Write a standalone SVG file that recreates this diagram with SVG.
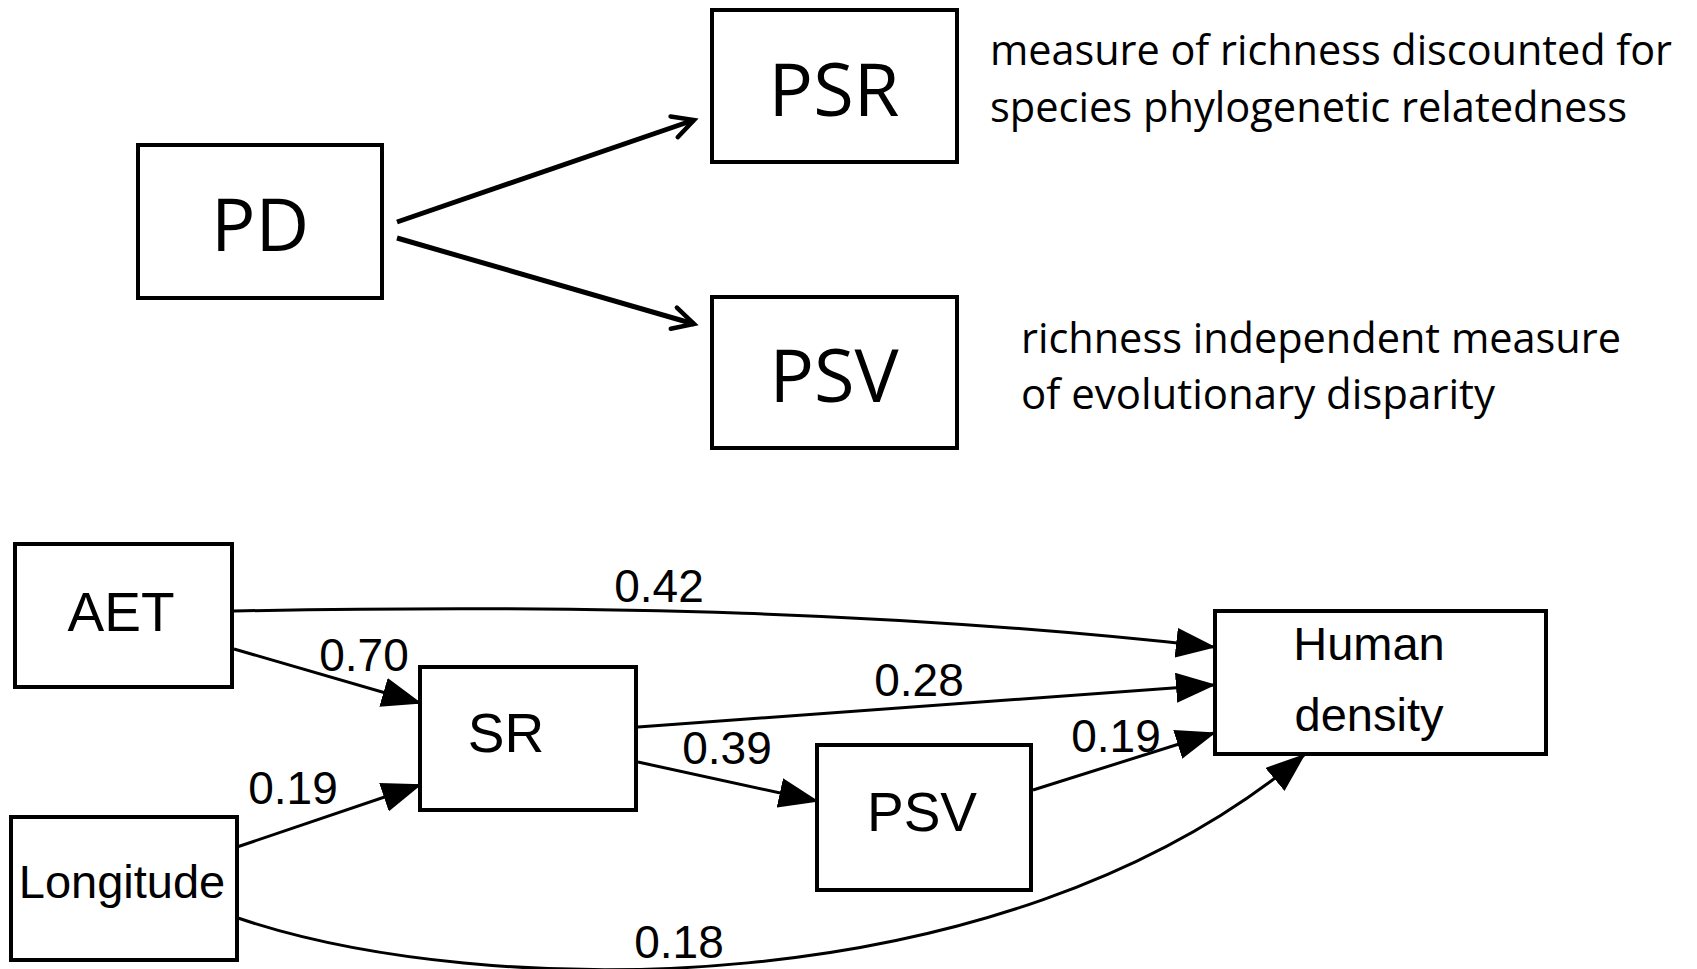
<svg xmlns="http://www.w3.org/2000/svg" width="1697" height="969" viewBox="0 0 1697 969">
<style>
.box{fill:#fff;stroke:#000;stroke-width:4}
.top{font-family:"Open Sans","Noto Sans",sans-serif;font-size:74px;fill:#000;text-anchor:middle}
.desc{font-family:"Open Sans","Noto Sans",sans-serif;font-size:42px;fill:#000}
.node{font-family:"Liberation Sans",Arial,sans-serif;font-size:55px;fill:#000;text-anchor:middle}
.small{font-family:"Liberation Sans",Arial,sans-serif;font-size:47px;fill:#000;text-anchor:middle}
.lbl{font-family:"Liberation Sans",Arial,sans-serif;font-size:46px;fill:#000;text-anchor:middle}
.c1{fill:none;stroke:#000;stroke-width:5;marker-end:url(#open)}
.c2{fill:none;stroke:#000;stroke-width:3;marker-end:url(#solid)}
</style>
<defs>
<marker id="open" viewBox="0 0 30 30" refX="24" refY="14" markerWidth="30" markerHeight="30" markerUnits="userSpaceOnUse" orient="auto">
<path d="M3,3 L24,14 L3,25" fill="none" stroke="#000" stroke-width="4.5" stroke-linecap="round"/>
</marker>
<marker id="solid" viewBox="0 0 40 30" refX="38" refY="15" markerWidth="40" markerHeight="30" markerUnits="userSpaceOnUse" orient="auto">
<path d="M0,0 L40,15 L0,30 z" fill="#000"/>
</marker>
</defs>
<rect width="1697" height="969" fill="#fff"/>

<g id="connectors">
<line class="c1" x1="397" y1="222" x2="694" y2="120"/>
<line class="c1" x1="397" y1="238" x2="694" y2="324"/>
<path class="c2" d="M234 611 C600 604, 900 612, 1214 647"/>
<line class="c2" x1="234" y1="649" x2="420" y2="703"/>
<line class="c2" x1="237" y1="847" x2="420" y2="785"/>
<line class="c2" x1="638" y1="727" x2="1214" y2="685"/>
<line class="c2" x1="638" y1="762" x2="817" y2="801"/>
<line class="c2" x1="1033" y1="790" x2="1214" y2="733"/>
<path class="c2" d="M238 918 C480 1000, 1000 1010, 1304 755"/>
</g>

<g id="node-PD"><rect class="box" x="138" y="145" width="244" height="153"/><text class="top" x="260" y="251">PD</text></g>
<g id="node-PSR"><rect class="box" x="712" y="10" width="245" height="152"/><text class="top" x="834" y="116">PSR</text></g>
<g id="node-PSV-top"><rect class="box" x="712" y="297" width="245" height="151"/><text class="top" x="834" y="402">PSV</text></g>
<g id="desc-PSR">
<text class="desc" x="990" y="65" textLength="682" lengthAdjust="spacingAndGlyphs">measure of richness discounted for</text>
<text class="desc" x="990" y="122" textLength="637" lengthAdjust="spacingAndGlyphs">species phylogenetic relatedness</text>
</g>
<g id="desc-PSV">
<text class="desc" x="1021" y="353" textLength="600" lengthAdjust="spacingAndGlyphs">richness independent measure</text>
<text class="desc" x="1021" y="409" textLength="474" lengthAdjust="spacingAndGlyphs">of evolutionary disparity</text>
</g>

<g id="node-AET"><rect class="box" x="15" y="544" width="217" height="143"/><text class="node" x="121" y="631">AET</text></g>
<g id="node-SR"><rect class="box" x="420" y="667" width="216" height="143"/><text class="node" x="506" y="752">SR</text></g>
<g id="node-PSV"><rect class="box" x="817" y="745" width="214" height="145"/><text class="node" x="922" y="831">PSV</text></g>
<g id="node-Human"><rect class="box" x="1215" y="611" width="331" height="143"/><text class="small" x="1369" y="660">Human</text><text class="small" x="1369" y="731">density</text></g>
<g id="node-Longitude"><rect class="box" x="11" y="817" width="226" height="143"/><text class="small" x="122" y="898">Longitude</text></g>

<g id="labels">
<text class="lbl" x="659" y="602">0.42</text>
<text class="lbl" x="364" y="671">0.70</text>
<text class="lbl" x="293" y="804">0.19</text>
<text class="lbl" x="919" y="696">0.28</text>
<text class="lbl" x="727" y="764">0.39</text>
<text class="lbl" x="1116" y="752">0.19</text>
<text class="lbl" x="679" y="958">0.18</text>
</g>
</svg>
